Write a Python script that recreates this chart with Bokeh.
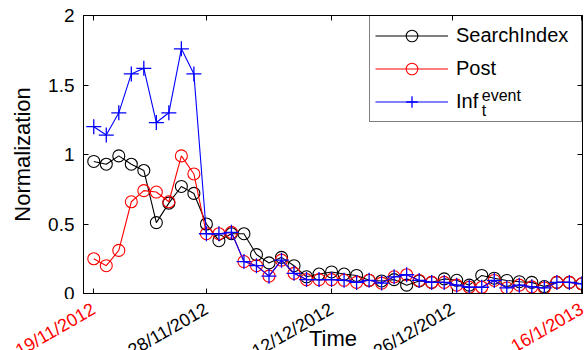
import math
from bokeh.plotting import figure
from bokeh.layouts import column
from bokeh.models import (FixedTicker, LinearAxis, Range1d, Legend, LegendItem,
                          ColumnDataSource, NumeralTickFormatter)
from bokeh.core.properties import value
from bokeh.embed import file_html
from bokeh.resources import INLINE

# ---------------- data ----------------
idx = list(range(40))
search_index = [0.95, 0.93, 0.99, 0.93, 0.885, 0.51, 0.65, 0.77, 0.72, 0.50,
                0.38, 0.43, 0.43, 0.28, 0.22, 0.26, 0.20, 0.12, 0.14, 0.155,
                0.14, 0.13, 0.095, 0.09, 0.10, 0.06, 0.09, 0.08, 0.105, 0.095,
                0.06, 0.13, 0.11, 0.094, 0.085, 0.08, 0.05, 0.08, 0.08, 0.07]
post = [0.25, 0.20, 0.31, 0.66, 0.74, 0.73, 0.66, 0.99, 0.86, 0.43,
        0.43, 0.44, 0.23, 0.20, 0.125, 0.24, 0.145, 0.10, 0.10, 0.10,
        0.095, 0.08, 0.095, 0.075, 0.12, 0.135, 0.094, 0.08, 0.08, 0.06,
        0.045, 0.045, 0.094, 0.04, 0.06, 0.048, 0.04, 0.08, 0.08, 0.07]
inf_event = [1.20, 1.14, 1.30, 1.58, 1.62, 1.23, 1.30, 1.76, 1.58, 0.43,
             0.43, 0.44, 0.23, 0.20, 0.125, 0.24, 0.145, 0.10, 0.10, 0.10,
             0.095, 0.08, 0.095, 0.075, 0.12, 0.135, 0.094, 0.08, 0.08, 0.06,
             0.045, 0.045, 0.094, 0.04, 0.06, 0.048, 0.04, 0.08, 0.08, 0.07]

x_tick_pos = [0, 9, 19, 28.7, 39]
x_tick_labels = ["19/11/2012", "28/11/2012", "12/12/2012", "26/12/2012", "16/1/2013"]
x_tick_colors = ["#ff0000", "#000000", "#000000", "#000000", "#ff0000"]
y_ticks = [0, 0.5, 1, 1.5, 2]
series_names = ["SearchIndex", "Post", "Inf"]
x_axis_title = "Time"
y_axis_title = "Normalization"

# ---------------- layout constants ----------------
FONT = "Liberation Sans"
W = 585
LEFT, RIGHT, TOP = 83, 3, 15
FRAME_W, FRAME_H = 499, 278
AXIS_GAP = 6                      # main figure ends this far below the frame
STRIP_H = 350 - (TOP + FRAME_H + AXIS_GAP)
X0, X1 = -0.82, 39.05
Y0, Y1 = 0, 2
KX = FRAME_W / (X1 - X0)          # px per x unit
KY = FRAME_H / (Y1 - Y0)          # px per y unit
ANGLE = math.radians(30)

src = ColumnDataSource(dict(x=idx, s=search_index, p=post, i=inf_event))

p = figure(frame_width=FRAME_W, frame_height=FRAME_H,
           min_border_left=LEFT, min_border_right=RIGHT, min_border_top=TOP,
           min_border_bottom=AXIS_GAP,
           x_range=Range1d(X0, X1), y_range=Range1d(Y0, Y1),
           output_backend="svg", toolbar_location=None,
           background_fill_color="white", border_fill_color="white")
p.frame_align = False
p.grid.visible = False
p.outline_line_color = "black"
p.outline_line_width = 1

def style_axis(ax):
    ax.major_tick_in = 5
    ax.major_tick_out = 0
    ax.minor_tick_line_color = None
    ax.axis_line_color = "black"
    ax.major_tick_line_color = "black"
    ax.major_label_text_font = FONT
    ax.major_label_text_color = "black"

def blank_labels(ax, ticks):
    ax.major_label_overrides = {t: "" for t in ticks}
    ax.major_label_standoff = 0
    ax.major_label_text_font_size = "1px"

xa = p.xaxis[0]
xa.ticker = FixedTicker(ticks=x_tick_pos)
style_axis(xa)
blank_labels(xa, x_tick_pos)

ya = p.yaxis[0]
ya.ticker = FixedTicker(ticks=y_ticks)
ya.formatter = NumeralTickFormatter(format="0.[0]")
style_axis(ya)
ya.major_label_text_font_size = "19px"
ya.major_label_standoff = 9
ya.axis_label = y_axis_title
ya.axis_label_text_font = FONT
ya.axis_label_text_font_size = "22px"
ya.axis_label_text_font_style = "normal"
ya.axis_label_text_color = "black"
ya.axis_label_standoff = 10

top = LinearAxis(ticker=FixedTicker(ticks=x_tick_pos))
style_axis(top)
blank_labels(top, x_tick_pos)
p.add_layout(top, "above")
right = LinearAxis(ticker=FixedTicker(ticks=y_ticks))
style_axis(right)
blank_labels(right, y_ticks)
p.add_layout(right, "right")

# ---------------- series ----------------
l1 = p.line("x", "s", source=src, line_color="#000000", line_width=1.1)
m1 = p.scatter("x", "s", source=src, marker="circle", size=12, line_color="#000000",
               fill_alpha=0, line_width=1.1)
l2 = p.line("x", "p", source=src, line_color="#ff0000", line_width=1.1)
m2 = p.scatter("x", "p", source=src, marker="circle", size=12, line_color="#ff0000",
               fill_alpha=0, line_width=1.1)
l3 = p.line("x", "i", source=src, line_color="#0000ff", line_width=1.1)
m3 = p.scatter("x", "i", source=src, marker="cross", size=15, line_color="#0000ff",
               line_width=1.3)

# ---------------- legend ----------------
PAD, GLYPH_W, STANDOFF, LABEL_W, ROW_H, SPACING = 5, 73, 8, 120, 29, 4
legend = Legend(items=[LegendItem(label=series_names[0], renderers=[l1, m1]),
                       LegendItem(label=series_names[1], renderers=[l2, m2]),
                       LegendItem(label=series_names[2], renderers=[l3, m3])],
                location="top_right", margin=0, padding=PAD, spacing=SPACING,
                label_height=ROW_H, glyph_height=ROW_H, glyph_width=GLYPH_W,
                label_standoff=STANDOFF, label_width=LABEL_W,
                label_text_font=FONT, label_text_font_size="20px",
                label_text_color="black",
                border_line_color="black", border_line_width=1,
                background_fill_alpha=0)
p.add_layout(legend)

# superscript "event" and subscript "t" of the third legend entry
box_w = 2 * PAD + GLYPH_W + STANDOFF + LABEL_W
text_px = FRAME_W - box_w + PAD + GLYPH_W + STANDOFF        # px from frame left
sup_px = text_px + 1.112 * 20 + 2
row3_px = PAD + 2 * (ROW_H + SPACING) + ROW_H / 2           # px from frame top
sup_src = ColumnDataSource(dict(
    x=[X0 + sup_px / KX, X0 + sup_px / KX],
    y=[Y1 - (row3_px - 6) / KY, Y1 - (row3_px + 9) / KY],
    t=["event", "t"]))
p.text(x="x", y="y", text="t", source=sup_src, text_font=value(FONT),
       text_font_size="16px", text_baseline="alphabetic", text_align="left",
       text_color="black")

# ---------------- strip under the plot: tick labels and x title ----------------
strip = figure(width=W, height=STRIP_H,
               x_range=Range1d(X0 - LEFT / KX, X0 + (W - LEFT) / KX),
               y_range=Range1d(-(AXIS_GAP + STRIP_H), -AXIS_GAP),
               x_axis_type=None, y_axis_type=None,
               min_border=0, min_border_left=0, min_border_right=0,
               min_border_top=0, min_border_bottom=0,
               output_backend="svg", toolbar_location=None,
               outline_line_color=None, background_fill_color="white",
               border_fill_color="white")
strip.frame_align = False
strip.grid.visible = False
tick_src = ColumnDataSource(dict(x=x_tick_pos, t=x_tick_labels, c=x_tick_colors))
strip.text(x="x", y=-14, text="t", source=tick_src, angle=ANGLE,
           text_align="right", text_baseline="middle", text_color="c",
           text_font=value(FONT), text_font_size="18px")
title_src = ColumnDataSource(dict(x=[(X0 + X1) / 2], t=[x_axis_title]))
strip.text(x="x", y=-45, text="t", source=title_src, text_align="center",
           text_baseline="middle", text_color="black",
           text_font=value(FONT), text_font_size="22px")

layout = column(p, strip, spacing=0)
open("out.html", "w").write(file_html(layout, INLINE))
